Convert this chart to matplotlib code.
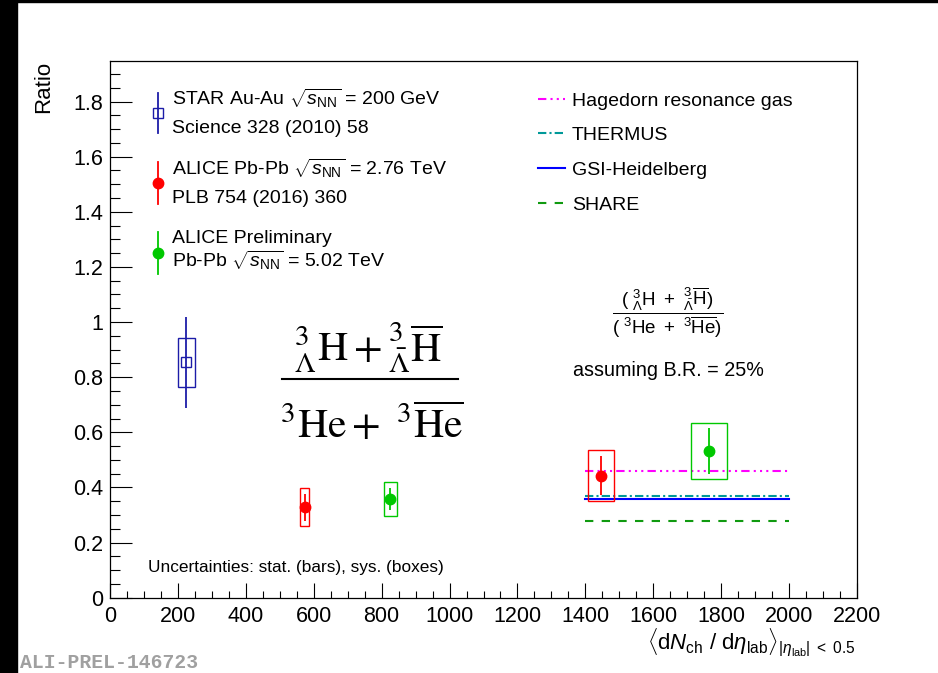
import numpy as np
import matplotlib
matplotlib.use('Agg')
import matplotlib.pyplot as plt
from matplotlib.patches import Rectangle
from matplotlib.lines import Line2D

plt.rcParams['font.family'] = ['Liberation Sans', 'DejaVu Sans']
plt.rcParams['mathtext.fontset'] = 'custom'
plt.rcParams['mathtext.rm'] = 'Liberation Sans'
plt.rcParams['mathtext.it'] = 'Liberation Sans:italic'
plt.rcParams['mathtext.bf'] = 'Liberation Sans:bold'

# STAR Au-Au 200 GeV
star_x = [224]
star_y = [0.854]
star_stat = [0.165]
star_sys = [0.088]
star_dx = [25]

# ALICE Pb-Pb 2.76 TeV
a276_x = [574, 1446]
a276_y = [0.329, 0.443]
a276_stat = [0.049, 0.07]
a276_sys = [0.069, 0.092]
a276_dx = [13, 39]

# ALICE preliminary Pb-Pb 5.02 TeV
a502_x = [826, 1764]
a502_y = [0.358, 0.532]
a502_stat = [0.041, 0.083]
a502_sys = [0.062, 0.1]
a502_dx = [20, 52]

# thermal model predictions
model_x = [1400, 2000]
model_names = ['Hagedorn resonance gas', 'THERMUS', 'GSI-Heidelberg', 'SHARE']
model_vals = [0.46, 0.369, 0.358, 0.278]
model_colors = ['#ff00ff', '#009999', '#0000ff', '#109a10']
model_styles = [(0, (4, 2, 1, 2, 1, 2, 1, 2)), (0, (4, 1.5, 1, 1.5)), '-', (0, (4, 4))]

W, H = 938, 673
fig = plt.figure(figsize=(W / 100, H / 100), dpi=100)


def px(x, y):
    # pixel position -> figure fraction
    return x / W, 1 - y / H


ax = fig.add_axes([110 / W, 1 - 597.7 / H, (857 - 110) / W, (597.7 - 61) / H])

for name, v, c, ls in zip(model_names, model_vals, model_colors, model_styles):
    ax.plot(model_x, [v, v], color=c, ls=ls, lw=1.5)


def draw_set(x, y, stat, sys, dx, color, marker, mfc):
    for xi, yi, s, dxi in zip(x, y, sys, dx):
        ax.add_patch(Rectangle((xi - dxi, yi - s), 2 * dxi, 2 * s, fill=False,
                               ec=color, lw=1.0, zorder=3))
    ax.errorbar(x, y, yerr=stat, fmt=marker, color=color, mfc=mfc, mec=color,
                ms=7.5, elinewidth=1.3, capsize=0, zorder=4)


draw_set(star_x, star_y, star_stat, star_sys, star_dx, '#1c1ca8', 's', 'none')
draw_set(a276_x, a276_y, a276_stat, a276_sys, a276_dx, '#ff0000', 'o', '#ff0000')
draw_set(a502_x, a502_y, a502_stat, a502_sys, a502_dx, '#00c800', 'o', '#00c800')

ax.set_xlim(0, 2200)
ax.set_ylim(0, 1.947)
ax.set_xticks(np.arange(0, 2201, 200))
ax.set_xticks(np.arange(0, 2201, 50), minor=True)
ax.set_yticks(np.arange(0, 1.81, 0.2))
ax.set_yticks(np.arange(0, 1.95, 0.05), minor=True)
ax.set_yticklabels(['0', '0.2', '0.4', '0.6', '0.8', '1', '1.2', '1.4', '1.6', '1.8'])
ax.tick_params(axis='x', which='major', direction='in', length=10.8, width=0.8,
               labelsize=15.5, pad=6)
ax.tick_params(axis='x', which='minor', direction='in', length=5, width=0.8)
ax.tick_params(axis='y', which='major', direction='in', length=15.6, width=0.8,
               labelsize=15.5, pad=5)
ax.tick_params(axis='y', which='minor', direction='in', length=7.2, width=0.8)
for sp in ax.spines.values():
    sp.set_linewidth(0.9)

fig.text(*px(44, 61), 'Ratio', rotation=90, ha='center', va='top', fontsize=16)
fig.text(*px(856, 643), r'$\langle \mathrm{d}N_{\mathrm{ch}}\ /\ \mathrm{d}\eta_{\mathrm{lab}}\rangle_{|\eta_{\mathrm{lab}}|\ <\ 0.5}$',
         ha='right', va='center', fontsize=16)
fig.text(*px(20, 663), 'ALI-PREL-146723', family='Liberation Mono', weight='bold',
         color='#a0a0a0', fontsize=14.2, va='center', ha='left')

# left legend, drawn by hand ROOT style
leg_items = [
    ('#1c1ca8', 's', 'none', 113, 20, ('STAR Au-Au $\\sqrt{s_{\\mathrm{NN}}}$ = 200 GeV', 'Science 328 (2010) 58'), (105, 133.3)),
    ('#ff0000', 'o', '#ff0000', 183, 21, ('ALICE Pb-Pb $\\sqrt{s_{\\mathrm{NN}}}$ = 2.76 TeV', 'PLB 754 (2016) 360'), (175, 203.3)),
    ('#00c800', 'o', '#00c800', 253, 21, ('ALICE Preliminary', 'Pb-Pb $\\sqrt{s_{\\mathrm{NN}}}$ = 5.02 TeV'), (243.3, 267)),
]
for c, m, mfc, yc, half, lines, bases in leg_items:
    x0, y0 = px(158, yc - half)
    x1, y1 = px(158, yc + half)
    fig.add_artist(Line2D([x0, x1], [y0, y1], color=c, lw=1.3))
    fig.add_artist(Line2D([x0], [(y0 + y1) / 2], marker=m, color=c, mfc=mfc, mec=c, ms=7.5))
    for t, b in zip(lines, bases):
        fig.text(*px(172, b), t, fontsize=14, va='baseline', ha='left')

# right legend (models)
for name, c, ls, b in zip(model_names, model_colors, model_styles, [106, 140, 175, 210]):
    x0, y0 = px(538, b - 7)
    x1, _ = px(565, b - 7)
    fig.add_artist(Line2D([x0, x1], [y0, y0], color=c, ls=ls, lw=1.5))
    fig.text(*px(572, b), name, fontsize=14, va='baseline', ha='left')

# small ratio label on the right
fig.text(*px(668, 313),
         r'$\dfrac{(\ {}^{3}_{\Lambda}\mathrm{H}\ +\ {}^{3}_{\bar{\Lambda}}\overline{\mathrm{H}})}{(\ {}^{3}\mathrm{He}\ +\ {}^{3}\overline{\mathrm{He}})}$',
         ha='center', va='center', fontsize=13.5)
fig.text(*px(668, 376), 'assuming B.R. = 25%', ha='center', va='baseline', fontsize=14.2)

# big ratio label: numerator, bar, denominator
fig.text(*px(368, 362), r'${}^{3}_{\Lambda}\mathrm{H} + {}^{3}_{\bar{\Lambda}}\overline{\mathrm{H}}$',
         ha='center', va='baseline', fontsize=30, math_fontfamily='stix')
bx0, by = px(282, 379)
bx1, _ = px(458, 379)
fig.add_artist(Line2D([bx0, bx1], [by, by], color='black', lw=1.5))
fig.text(*px(372, 438), r'${}^{3}\mathrm{He} + \ {}^{3}\overline{\mathrm{He}}$',
         ha='center', va='baseline', fontsize=30, math_fontfamily='stix')

fig.text(*px(148, 572), 'Uncertainties: stat. (bars), sys. (boxes)', fontsize=12.4,
         va='baseline', ha='left')

# black frame bits of the screenshot
fig.add_artist(Rectangle((0, 0), 17 / W, 1, color='black', transform=fig.transFigure))
fig.add_artist(Rectangle((0, 1 - 2 / H), 1, 2 / H, color='black', transform=fig.transFigure))

fig.savefig('out.png', dpi=100)
